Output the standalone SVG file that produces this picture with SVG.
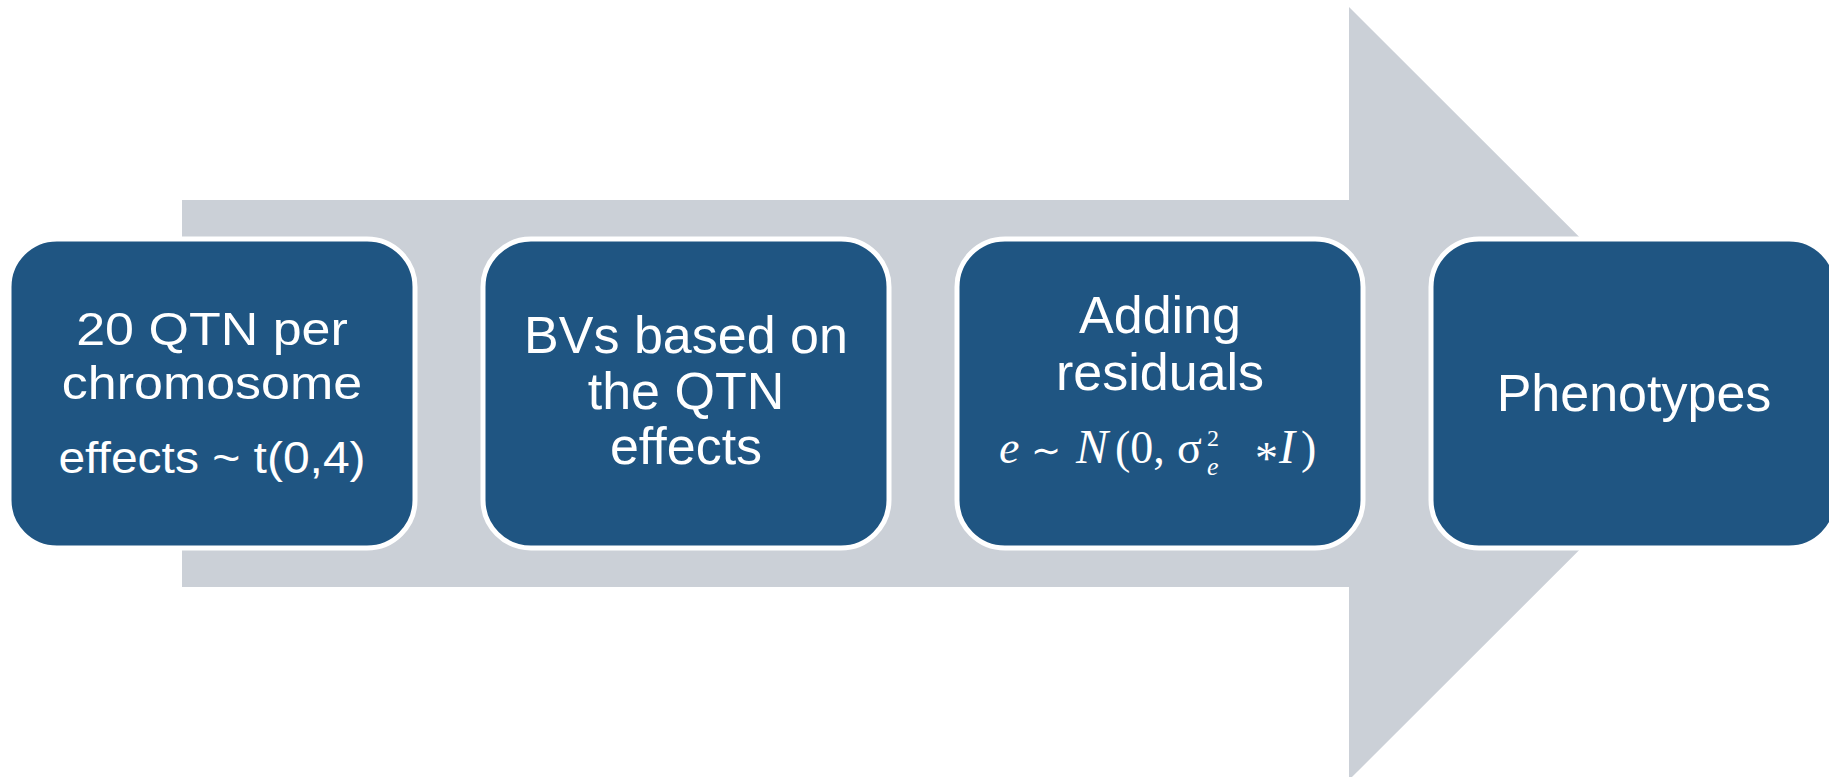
<svg xmlns="http://www.w3.org/2000/svg" width="1829" height="777" viewBox="0 0 1829 777">
<style>
.box{fill:#1F5582;stroke:#FFFFFF;stroke-width:5}
.t{font-family:"Liberation Sans",Arial,sans-serif;font-size:52px;fill:#FFFFFF;text-anchor:middle}
.m{font-family:"Liberation Serif","Times New Roman",serif;font-size:46px;fill:#FFFFFF}
.i{font-style:italic}
</style>
<rect width="1829" height="777" fill="#FFFFFF"/>
<g id="connectors">
<polygon points="182,200 1349,200 1349,7 1736,393.5 1349,780 1349,587 182,587" fill="#CBD0D7"/>
</g>
<g id="node1">
<rect class="box" x="9" y="239" width="406" height="309" rx="48" ry="48"/>
<text class="t" x="212" y="345" transform="translate(0,34.5) scale(1,0.9)">20 QTN per</text>
<text class="t" x="212" y="399" transform="translate(0,39.9) scale(1,0.9)">chromosome</text>
<text class="t" x="212" y="473" style="font-size:48px" transform="translate(0,37.84) scale(1,0.92)">effects ~ t(0,4)</text>
</g>
<g id="node2">
<rect class="box" x="483" y="239" width="406" height="309" rx="48" ry="48"/>
<text class="t" x="686" y="353">BVs based on</text>
<text class="t" x="686" y="409">the QTN</text>
<text class="t" x="686" y="464">effects</text>
</g>
<g id="node3">
<rect class="box" x="957" y="239" width="406" height="309" rx="48" ry="48"/>
<text class="t" x="1160" y="333">Adding</text>
<text class="t" x="1160" y="390">residuals</text>
<text class="m" y="463"><tspan class="i" x="999">e</tspan><tspan x="1031" font-family="DejaVu Sans, sans-serif" font-size="36">∼</tspan><tspan class="i" x="1076" font-size="48">N</tspan><tspan x="1115">(0,</tspan><tspan x="1177">σ</tspan></text>
<text class="m" x="1207" y="446" style="font-size:24px">2</text>
<text class="m i" x="1207" y="475" style="font-size:26px">e</text>
<text class="m" x="1255" y="474">*</text>
<text class="m" y="463"><tspan class="i" x="1279" font-size="48">I</tspan><tspan x="1301">)</tspan></text>
</g>
<g id="node4">
<rect class="box" x="1431" y="239" width="406" height="309" rx="48" ry="48"/>
<text class="t" x="1634" y="411">Phenotypes</text>
</g>
</svg>
